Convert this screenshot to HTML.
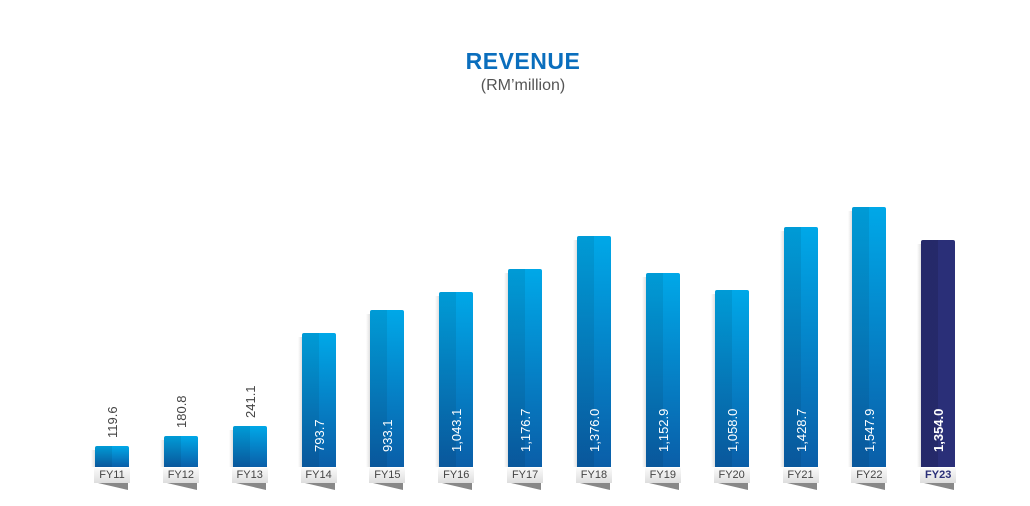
<!DOCTYPE html><html><head><style>
body{margin:0;width:1030px;height:506px;background:#fff;font-family:"Liberation Sans",sans-serif;position:relative;overflow:hidden}
.t{position:absolute;left:0;width:1046px;text-align:center}
.b{position:absolute;width:34px;border-radius:2px 2px 0 0;background:linear-gradient(90deg,rgba(0,0,0,.08) 0,rgba(0,0,0,.08) 50%,rgba(255,255,255,0) 50%),linear-gradient(180deg,#00a8e8,#0a5ea8)}
.b.d{background:linear-gradient(90deg,rgba(0,0,0,.12) 0,rgba(0,0,0,.12) 50%,rgba(255,255,255,0) 50%),#2a2f78}
.b::before{content:"";position:absolute;left:-4px;top:4px;width:4px;bottom:0;background:linear-gradient(90deg,rgba(0,0,0,0),rgba(0,0,0,.12))}
.l{position:absolute;width:36px;height:15px;top:468px;background:linear-gradient(#fafafa,#ddd);font-size:11px;color:#444;text-align:center;line-height:15px}
.s{position:absolute;top:483px;width:0;height:0;border-top:7px solid #555;border-left:30px solid transparent;opacity:.7}
.v{position:absolute;font-size:13px;transform-origin:0 0;transform:rotate(-90deg);white-space:nowrap}
</style></head><body>
<div class="t" style="top:48px;font-size:23px;font-weight:bold;color:#0a6ebd;letter-spacing:.5px">REVENUE</div>
<div class="t" style="top:77px;font-size:16px;color:#555">(RM’million)</div>
<div id="c"></div>
<script>
var d=[["FY11","119.6",446],["FY12","180.8",436],["FY13","241.1",426],["FY14","793.7",333],["FY15","933.1",310],["FY16","1,043.1",292],["FY17","1,176.7",269],["FY18","1,376.0",236],["FY19","1,152.9",273],["FY20","1,058.0",290],["FY21","1,428.7",227],["FY22","1,547.9",207],["FY23","1,354.0",240]];
var h="";d.forEach(function(e,i){var x=95+i*68.85,last=i==12;
h+='<div class="b'+(last?' d':'')+'" style="left:'+x+'px;top:'+e[2]+'px;height:'+(467-e[2])+'px"></div>';
h+='<div class="l" style="left:'+(x-1)+'px;'+(last?'color:#2a2f78;font-weight:bold':'')+'">'+e[0]+'</div>';
h+='<div class="s" style="left:'+(x+3)+'px"></div>';
var inside=i>2;var by=inside?452:(e[2]-8);
h+='<div class="v" style="left:'+(x+10)+'px;top:'+by+'px;color:'+(inside?'#fff':'#444')+(last?';font-weight:bold':'')+'">'+e[1]+'</div>';});
document.getElementById('c').innerHTML=h;
</script></body></html>
